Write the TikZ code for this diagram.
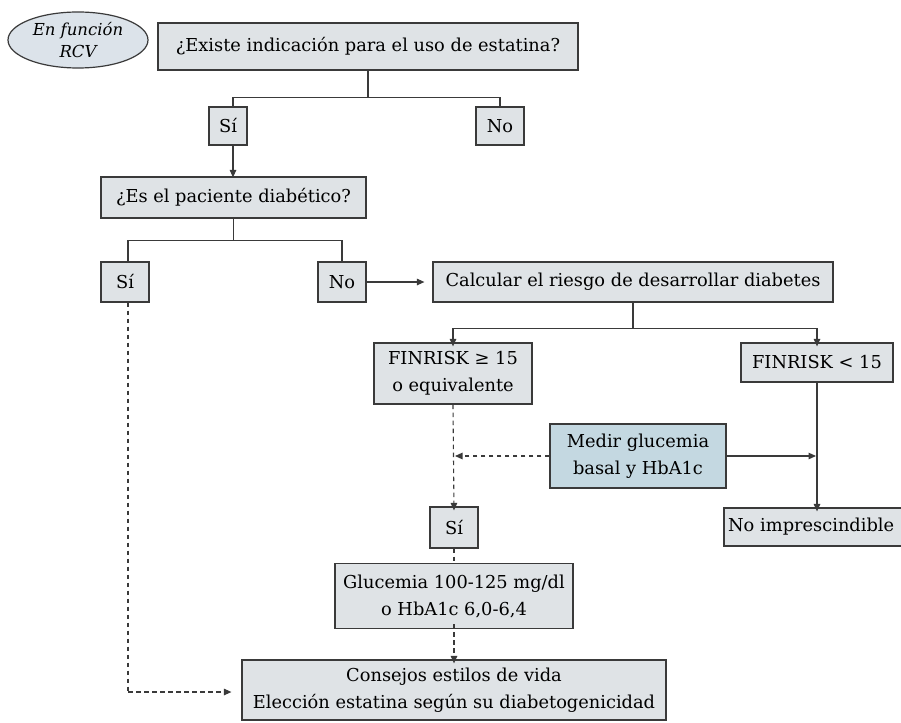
\documentclass[tikz,border=0pt]{standalone}
\usepackage{fontspec}
\setmainfont{DejaVu Serif}
\usetikzlibrary{shapes.geometric,arrows.meta,calc}
\definecolor{boxgray}{HTML}{DFE3E6}
\definecolor{boxblue}{HTML}{C4D8E1}
\definecolor{ellfill}{HTML}{DCE3EA}
\definecolor{edge}{HTML}{3A3A3A}
\begin{document}
\begin{tikzpicture}[x=1pt,y=-1pt,
  box/.style={draw=edge,fill=boxgray,line width=1.2pt,inner sep=0pt,align=center,font=\fontsize{17.8}{27}\selectfont},
  conn/.style={draw=edge,line width=1.1pt},
  tip/.style={-{Triangle[length=7.5pt,width=6.5pt]}},
  arr/.style={conn,tip},
  dsh/.style={conn,dash pattern=on 4.5pt off 3.5pt}]
\useasboundingbox (0,0) rectangle (901,722);
\clip (0,0) rectangle (901,722);
\node[ellipse,draw=edge,fill=ellfill,line width=1.2pt,minimum width=140,minimum height=56,inner sep=0pt,align=center,font=\fontsize{16.5}{22}\selectfont\itshape] (rcv) at (78,40) {En función\\RCV};
\node[box,minimum width=420,minimum height=47] (q1) at (368,46.5) {¿Existe indicación para el uso de estatina?};
\node[box,minimum width=38,minimum height=38] (si1) at (228,126) {Sí};
\node[box,minimum width=48,minimum height=38] (no1) at (500,126) {No};
\node[box,minimum width=265,minimum height=41] (q2) at (233.5,197.5) {¿Es el paciente diabético?};
\node[box,minimum width=48,minimum height=40] (si2) at (125,282) {Sí};
\node[box,minimum width=48,minimum height=40] (no2) at (342,282) {No};
\node[box,minimum width=400,minimum height=40] (calc) at (633,282) {Calcular el riesgo de desarrollar diabetes};
\node[box,minimum width=158,minimum height=61] (fhi) at (453,373.5) {FINRISK ≥ 15\\o equivalente};
\node[box,minimum width=152,minimum height=39] (flo) at (817,362.5) {FINRISK < 15};
\node[box,fill=boxblue,minimum width=176,minimum height=64] (med) at (638,456) {Medir glucemia\\basal y HbA1c};
\node[box,minimum width=48,minimum height=41] (si3) at (454,527.5) {Sí};
\node[box,minimum width=190,minimum height=38,align=left,text width=182] (noi) at (819,527) {No imprescindible};
\node[box,minimum width=238,minimum height=65] (glu) at (454,596) {Glucemia 100-125 mg/dl\\o HbA1c 6,0-6,4};
\node[box,minimum width=424,minimum height=60] (con) at (454,690) {Consejos estilos de vida\\Elección estatina según su diabetogenicidad};
% connectors
\draw[conn] (q1.south) -- ++(0,27) coordinate (b1) -| ([xshift=5pt]si1.north);
\draw[conn] (b1) -| (no1.north);
\draw[arr] ([xshift=5pt]si1.south) -- ([xshift=5pt,yshift=-1pt]si1.south |- q2.north);
\draw[conn] (q2.south) -- ++(0,22) coordinate (b2) -| ([xshift=3pt]si2.north);
\draw[conn] (b2) -| (no2.north);
\draw[arr] (no2.east) -- ([xshift=-8pt]calc.west);
\draw[conn] (calc.south) -- ++(0,26) coordinate (b3);
\draw[arr] (b3) -| ([yshift=-4pt]fhi.north);
\draw[arr] (b3) -| ([yshift=-4pt]flo.north);
\draw[dsh,tip] (fhi.south) -- ([yshift=-4pt]si3.north);
\coordinate (mj) at (fhi.south |- med.west);
\draw[dsh,tip] (med.west) -- ([xshift=2pt]mj);
\coordinate (mk) at (flo.south |- med.east);
\draw[arr] (med.east) -- ([xshift=-1pt]mk);
\draw[arr] (flo.south) -- ([yshift=-4pt]flo.south |- noi.north);
\draw[dsh] (si3.south) -- (glu.north);
\draw[dsh,tip] ([yshift=5pt]glu.south) -- ([yshift=-4pt]con.north);
\coordinate (dl) at ([xshift=3pt]si2.south |- 0,692);
\draw[dsh] ([xshift=3pt]si2.south) -- (dl);
\draw[dsh,tip] (dl) -- ([xshift=-10pt]con.west |- dl);
\end{tikzpicture}
\end{document}
